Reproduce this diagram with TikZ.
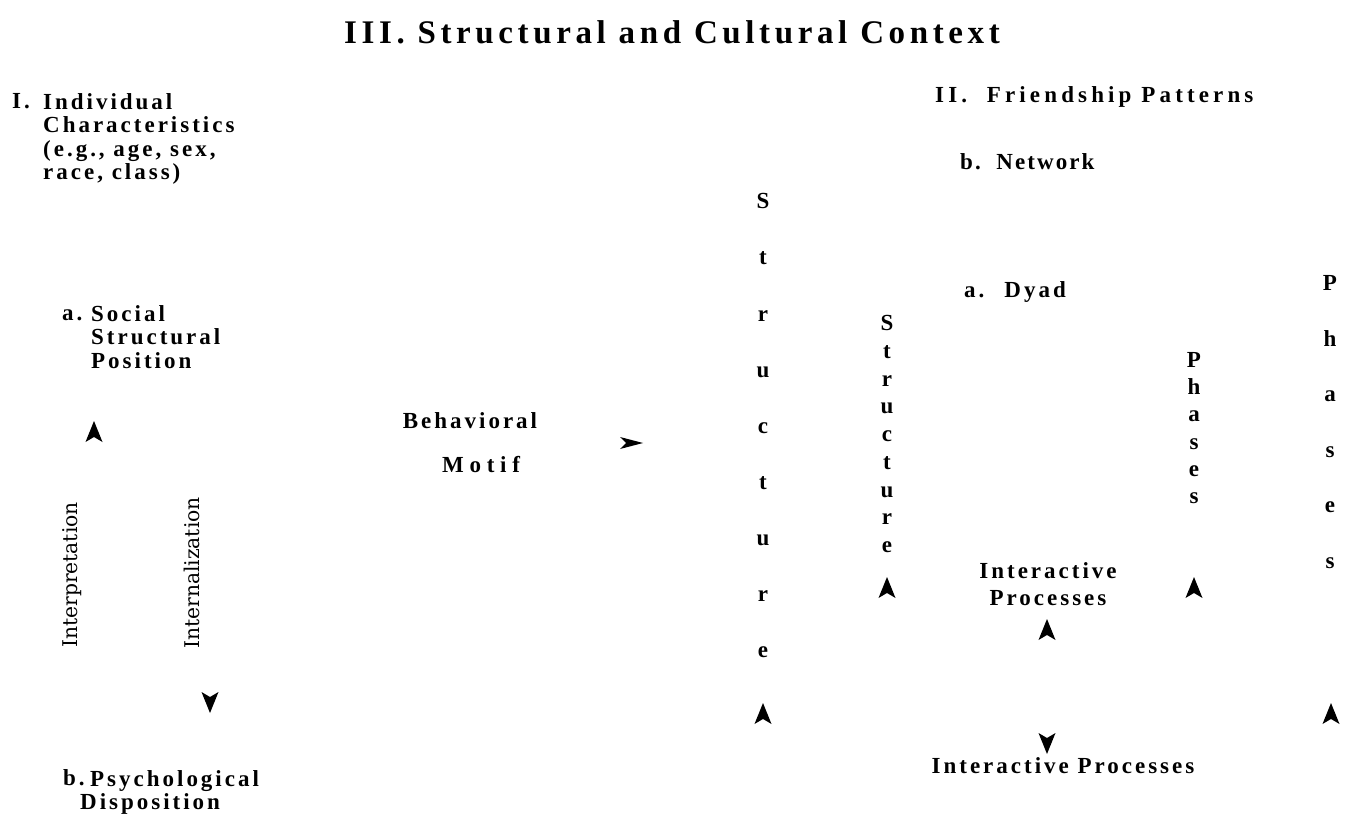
\documentclass[tikz,border=0pt]{standalone}
\usepackage{fontspec}
\setmainfont{Liberation Serif}
\newfontfamily\lbl[LetterSpace=13]{Liberation Serif}
\newfontfamily\lblwide[LetterSpace=25]{Liberation Serif}
\newfontfamily\lblfriend[LetterSpace=18]{Liberation Serif}
\newfontfamily\lblnet[LetterSpace=9]{Liberation Serif}
\newfontfamily\lbltitle[LetterSpace=14]{Liberation Serif}
\newfontfamily\rotfont{DejaVu Serif}
\begin{document}
\begin{tikzpicture}[x=1pt,y=-1pt,
  txt/.style={inner sep=0pt,font=\lbl\bfseries\fontsize{23}{23.5}\selectfont},
  blk/.style={txt,align=left,anchor=north west},
  vl/.style={txt,anchor=base},
  rot/.style={inner sep=0pt,rotate=90,font=\rotfont\fontsize{20.3}{22}\selectfont},
  ahead/.pic={\fill (0,-11) -- (8.5,10) -- (0,5) -- (-8.5,10) -- cycle;},
  aright/.pic={\fill (12,0) -- (-11,6) -- (-5,0) -- (-11,-6) -- cycle;}]
\fill[white] (0,0) rectangle (1345,821);
\useasboundingbox (0,0) rectangle (1345,821);

% title
\node[inner sep=0pt,anchor=base,font=\lbltitle\bfseries\fontsize{33}{35}\selectfont] (title) at (672,44) {III.\ Structural and Cultural Context};

% left column
\node[txt,anchor=base west] (inum) at (12,108.6) {I.};
\node[blk] (indiv) at (43,93) {Individual\\Characteristics\\(e.g., age, sex,\\race, class)};
\node[txt,anchor=base west] (anum) at (62,320.6) {a.};
\node[blk] (social) at (91,305) {Social\\Structural\\Position};
\node[rot] (interp) at (72,575) {Interpretation};
\node[rot] (intern) at (192,573) {Internalization};
\node[txt,anchor=base west] (bnum) at (63,785.6) {b.};
\node[blk] (psych) at (90,770) {Psychological\\\hspace*{-10pt}Disposition};

% middle
\node[txt,anchor=base] (behav) at (470,428.6) {Behavioral};
\node[txt,anchor=base,font=\lblwide\bfseries\fontsize{23}{23.5}\selectfont] (motif) at (481,472.6) {Motif};

% right block
\node[txt,anchor=base west,font=\lblfriend\bfseries\fontsize{23}{23.5}\selectfont] (friend) at (935,102.6) {II.\ \ Friendship Patterns};
\node[txt,anchor=base west,font=\lblnet\bfseries\fontsize{23}{23.5}\selectfont] (network) at (960,169.6) {b.\ \ Network};
\node[txt,anchor=base west] (dyad) at (964,297.6) {a.\hspace*{20pt}Dyad};
\node[txt,align=center,anchor=north] (ip1) at (1048,562) {Interactive\\[3.5pt]Processes};
\node[txt,anchor=base] (ip2) at (1063,773.6) {Interactive Processes};

% vertical words
\foreach \l [count=\i] in {S,t,r,u,c,t,u,r,e}
  \node[vl] (bigstruct-\i) at (763,{209+(\i-1)*56}) {\l};
\foreach \l [count=\i] in {S,t,r,u,c,t,u,r,e}
  \node[vl] (smallstruct-\i) at (887,{330.5+(\i-1)*27.75}) {\l};
\foreach \l [count=\i] in {P,h,a,s,e,s}
  \node[vl] (smallphase-\i) at (1194,{367.5+(\i-1)*27.2}) {\l};
\foreach \l [count=\i] in {P,h,a,s,e,s}
  \node[vl] (bigphase-\i) at (1330,{290.5+(\i-1)*55.6}) {\l};

% arrowheads
\pic (a1) at (94,432) {ahead};
\pic[rotate=180] (a2) at (210,702) {ahead};
\pic (a3) at (631,443) {aright};
\pic (a4) at (763,714) {ahead};
\pic (a5) at (887,588) {ahead};
\pic (a6) at (1194,588) {ahead};
\pic (a7) at (1047,630) {ahead};
\pic[rotate=180] (a8) at (1047,743) {ahead};
\pic (a9) at (1331,714) {ahead};
\end{tikzpicture}
\end{document}
